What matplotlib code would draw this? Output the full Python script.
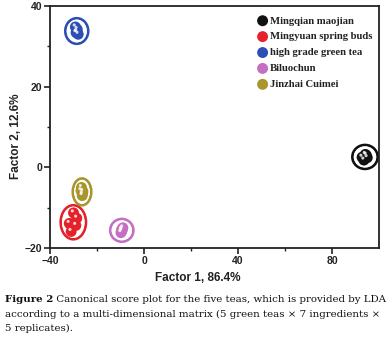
import numpy as np
import matplotlib
matplotlib.use("Agg")
import matplotlib.pyplot as plt
from matplotlib.patches import Ellipse

# ---- data ----
groups = ["Mingqian maojian", "Mingyuan spring buds", "high grade green tea",
          "Biluochun", "Jinzhai Cuimei"]
mingqian_x = [92.8, 94.2, 95.0, 93.6, 94.6]
mingqian_y = [2.5, 3.2, 2.4, 1.8, 3.0]
mingyuan_x = [-30.0, -31.8, -29.0, -31.0, -28.6]
mingyuan_y = [-11.3, -13.9, -14.4, -15.9, -12.6]
highgrade_x = [-28.6, -29.2, -28.0, -28.4, -28.9]
highgrade_y = [33.6, 34.8, 33.0, 34.2, 33.4]
biluochun_x = [-9.6, -9.0, -9.8, -9.3, -9.5]
biluochun_y = [-15.9, -15.0, -16.2, -15.6, -15.4]
jinzhai_x = [-26.6, -26.3, -26.0, -26.8, -26.2]
jinzhai_y = [-5.0, -7.0, -6.0, -5.8, -6.6]

xs = [mingqian_x, mingyuan_x, highgrade_x, biluochun_x, jinzhai_x]
ys = [mingqian_y, mingyuan_y, highgrade_y, biluochun_y, jinzhai_y]

x_ticks = [-40, 0, 40, 80]
y_ticks = [-20, 0, 20, 40]
xlabel = "Factor 1, 86.4%"
ylabel = "Factor 2, 12.6%"
caption_bold = "Figure 2"
caption_rest = [" Canonical score plot for the five teas, which is provided by LDA",
                "according to a multi-dimensional matrix (5 green teas \u00d7 7 ingredients \u00d7",
                "5 replicates)."]

# ---- style ----
colors = ["#111111", "#e5222b", "#2b4fb4", "#c46fc2", "#a8952c"]
ell_pad_x = [8.5, 7.5, 8.5, 9.0, 7.0]
ell_pad_y = [4.5, 3.8, 4.5, 4.4, 4.6]

W, H = 392, 339
fig = plt.figure(figsize=(W / 100, H / 100), dpi=100)
ax = fig.add_axes([50 / W, 1 - 248 / H, (379 - 50) / W, (248 - 6) / H])

for gx, gy, c, px, py, name in zip(xs, ys, colors, ell_pad_x, ell_pad_y, groups):
    gx = np.asarray(gx); gy = np.asarray(gy)
    cx, cy = gx.mean(), gy.mean()
    w = (gx.max() - gx.min()) + px
    h = (gy.max() - gy.min()) + py
    ax.add_patch(Ellipse((cx, cy), w, h, fill=False, edgecolor=c, lw=2.0, zorder=2))
    ax.add_patch(Ellipse((cx, cy), w - 1.6, h - 0.9, fill=False, edgecolor="white", lw=0.8, zorder=2))
    ax.scatter(gx, gy, s=62, color=c, edgecolor="none", zorder=3, label=name)
    ax.scatter(gx - 0.5, gy + 0.5, s=5, color="white", alpha=0.8, edgecolor="none", zorder=4)

ax.set_xlim(-40, 100)
ax.set_ylim(-20, 40)
ax.set_xticks(x_ticks)
ax.set_yticks(y_ticks)
ax.set_xticks([-20, 20, 60], minor=True)
ax.set_yticks([-10, 10, 30], minor=True)
ax.tick_params(which="major", direction="out", length=4, width=1.2, labelsize=7.5, pad=1.5, colors="#222222")
ax.tick_params(which="minor", direction="out", length=2.5, width=1.0, colors="#222222")
for lab in ax.get_xticklabels() + ax.get_yticklabels():
    lab.set_fontweight("bold")
    lab.set_fontfamily("Liberation Sans")
for s in ax.spines.values():
    s.set_linewidth(1.3)
    s.set_color("#222222")

ax.set_xlabel(xlabel, fontsize=8.5, fontweight="bold", family="Liberation Sans", color="#222222")
ax.xaxis.set_label_coords((198 - 50) / (379 - 50), -0.1)
ax.set_ylabel(ylabel, fontsize=8.5, fontweight="bold", family="Liberation Sans", color="#222222")
ax.yaxis.set_label_coords(-0.085, 1 - (136 - 6) / (248 - 6))

leg = ax.legend(loc="upper right", bbox_to_anchor=(1.0, 0.985), frameon=False,
                prop={"family": "Liberation Serif", "weight": "bold", "size": 7.7},
                handlelength=0.6, handletextpad=0.4, labelspacing=0.6, borderaxespad=0.2,
                markerscale=1.0)
for t in leg.get_texts():
    t.set_color("#222222")

# caption
renderer = fig.canvas.get_renderer()
fam = "DejaVu Serif"
fs = 7.0
x0 = 5 / W
target_w = 382
tmp = fig.text(0, 0, caption_bold + caption_rest[0], fontsize=fs, family=fam)
wcur = tmp.get_window_extent(renderer=renderer).width
tmp.remove()
fs = fs * target_w / wcur
ys_cap = [1 - 300 / H, 1 - 314 / H, 1 - 328 / H]
tb = fig.text(x0, ys_cap[0], caption_bold, fontsize=fs, fontweight="bold",
              family=fam, va="center", ha="left", color="#111111")
bb = tb.get_window_extent(renderer=renderer)
fig.text(bb.x1 / W, ys_cap[0], caption_rest[0], fontsize=fs, family=fam,
         va="center", ha="left", color="#111111")
fig.text(x0, ys_cap[1], caption_rest[1], fontsize=fs, family=fam,
         va="center", ha="left", color="#111111")
fig.text(x0, ys_cap[2], caption_rest[2], fontsize=fs, family=fam,
         va="center", ha="left", color="#111111")

fig.savefig("out.png", dpi=100)
